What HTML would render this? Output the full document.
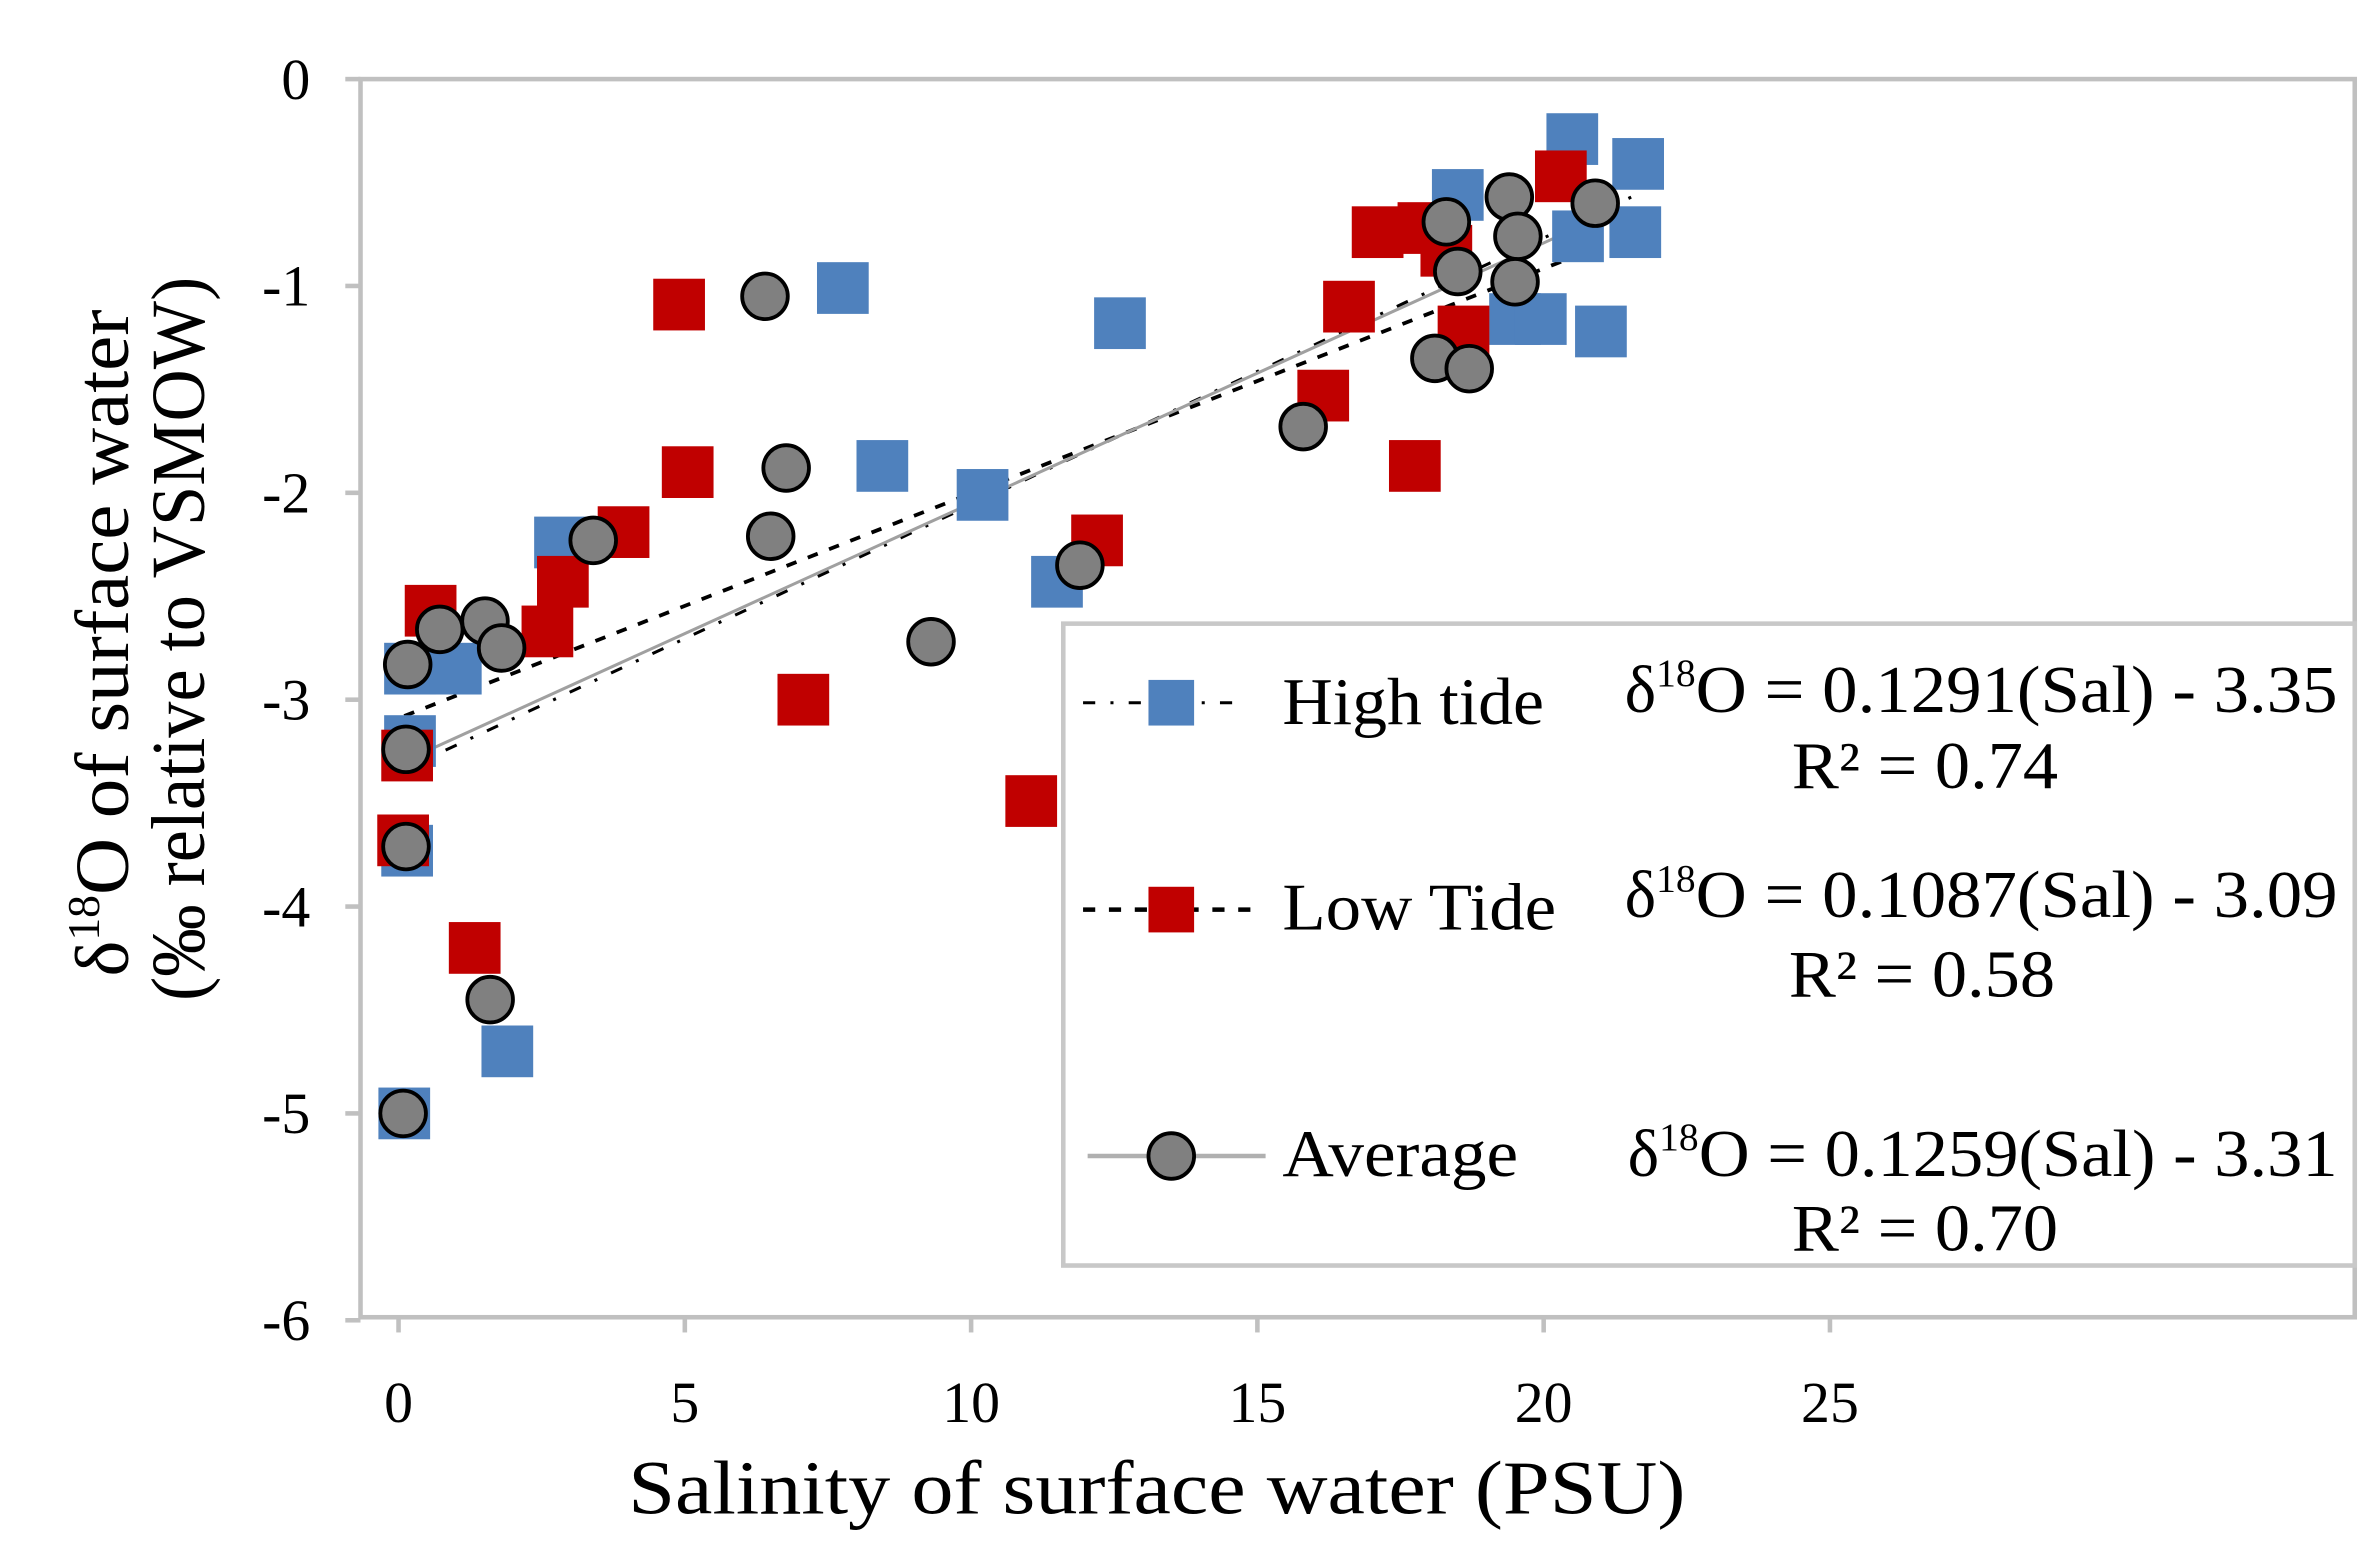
<!DOCTYPE html>
<html><head><meta charset="utf-8"><style>
html,body{margin:0;padding:0;background:#fff;}
svg{display:block;font-family:"Liberation Serif",serif;}
</style></head><body>
<svg id="chart" width="2373" height="1560" viewBox="0 0 1560 1025.6" preserveAspectRatio="none">
<rect x="0" y="0" width="1560" height="1026" fill="#fff"/>
<rect x="237" y="52" width="1311" height="814" fill="none" stroke="#c0c0c0" stroke-width="3"/>
<g id="axes"></g>
<g id="trends"></g>
<g id="marks"></g>
<g>
<rect x="699" y="410" width="849" height="422" fill="#fff" stroke="#c8c8c8" stroke-width="3"/>
<g>
<line x1="712" y1="462" x2="818" y2="462" stroke="#000" stroke-width="2" stroke-dasharray="8,10,2,10"/>
<rect x="755" y="447" width="30" height="30" fill="#4f81bd"/>
<text x="843" y="476" font-size="44" textLength="172" lengthAdjust="spacingAndGlyphs">High tide</text>
<text x="1068" y="468" font-size="44">δ<tspan font-size="26" dy="-17">18</tspan><tspan dy="17" textLength="422" lengthAdjust="spacingAndGlyphs">O = 0.1291(Sal) - 3.35</tspan></text>
<text x="1178" y="518" font-size="44" textLength="175" lengthAdjust="spacingAndGlyphs">R² = 0.74</text>
</g>
<g>
<line x1="712" y1="598" x2="830" y2="598" stroke="#000" stroke-width="3" stroke-dasharray="8,9"/>
<rect x="755" y="583" width="30" height="30" fill="#c00000"/>
<text x="843" y="611" font-size="44" textLength="180" lengthAdjust="spacingAndGlyphs">Low Tide</text>
<text x="1068" y="603" font-size="44">δ<tspan font-size="26" dy="-17">18</tspan><tspan dy="17" textLength="422" lengthAdjust="spacingAndGlyphs">O = 0.1087(Sal) - 3.09</tspan></text>
<text x="1176" y="655" font-size="44" textLength="175" lengthAdjust="spacingAndGlyphs">R² = 0.58</text>
</g>
<g>
<line x1="715" y1="760" x2="832" y2="760" stroke="#b0b0b0" stroke-width="3"/>
<circle cx="770" cy="760" r="15" fill="#808080" stroke="#000" stroke-width="2.5"/>
<text x="843" y="773" font-size="44" textLength="155" lengthAdjust="spacingAndGlyphs">Average</text>
<text x="1070" y="773" font-size="44">δ<tspan font-size="26" dy="-17">18</tspan><tspan dy="17" textLength="420" lengthAdjust="spacingAndGlyphs">O = 0.1259(Sal) - 3.31</tspan></text>
<text x="1178" y="822" font-size="44" textLength="175" lengthAdjust="spacingAndGlyphs">R² = 0.70</text>
</g>
</g>
<text x="413" y="995" font-size="50" textLength="695" lengthAdjust="spacingAndGlyphs">Salinity of surface water (PSU)</text>
<g transform="translate(0,420) rotate(-90)">
<text x="-222" y="84" font-size="50">δ<tspan font-size="30" dy="-19">18</tspan><tspan dy="19" textLength="385" lengthAdjust="spacingAndGlyphs">O of surface water</tspan></text>
<text x="-238" y="134" font-size="50" textLength="476" lengthAdjust="spacingAndGlyphs">(‰ relative to VSMOW)</text>
</g>
</svg>
<script>
const xTicks=[0,5,10,15,20,25];
const yTicks=[0,-1,-2,-3,-4,-5,-6];
const highX=[20.5,21.65,18.5,20.6,21.6,7.76,12.6,19.5,19.95,21.0,8.45,10.2,2.82,11.5,0.2,1.0,0.2,0.15,1.9,0.1];
const highY=[-0.29,-0.41,-0.56,-0.76,-0.74,-1.01,-1.18,-1.16,-1.16,-1.22,-1.87,-2.01,-2.24,-2.43,-2.85,-2.85,-3.2,-3.73,-4.7,-5.0];
const lowX=[20.3,17.1,17.9,18.3,16.6,4.9,18.6,5.05,3.93,12.2,2.87,0.56,16.15,17.75,2.6,7.07,11.05,0.15,0.08,1.33];
const lowY=[-0.47,-0.74,-0.72,-0.83,-1.1,-1.09,-1.22,-1.9,-2.19,-2.23,-2.43,-2.57,-1.53,-1.87,-2.67,-3.0,-3.49,-3.27,-3.68,-4.2];
const avgX=[19.4,20.9,18.3,19.55,18.5,19.5,6.4,18.1,18.7,15.8,6.77,3.4,6.5,11.9,9.3,0.72,1.51,1.8,0.16,0.13,0.13,1.6,0.08];
const avgY=[-0.57,-0.6,-0.69,-0.76,-0.93,-0.98,-1.05,-1.35,-1.4,-1.68,-1.88,-2.23,-2.21,-2.35,-2.72,-2.66,-2.62,-2.75,-2.83,-3.24,-3.71,-4.45,-5.0];
const trendSlope=[0.1291,0.1087,0.1259];
const trendIntercept=[-3.35,-3.09,-3.31];
const trendStart=[0.1,0.1,0.1];
const trendEnd=[21.7,20.5,21.0];

const NS="http://www.w3.org/2000/svg";
const X=v=>262+v*37.64;
const Y=v=>52-v*136;
function mk(tag,attrs,parent){const e=document.createElementNS(NS,tag);for(const k in attrs)e.setAttribute(k,attrs[k]);parent.appendChild(e);return e;}
const axes=document.getElementById('axes');
yTicks.forEach(t=>{
  const l=mk('line',{x1:227,x2:237,y1:Y(t),y2:Y(t),stroke:'#c0c0c0','stroke-width':3},axes);
  
  
  const tx=mk('text',{x:204,y:Y(t)+13,'font-size':38,'text-anchor':'end'},axes);
  tx.textContent=String(t);
  
  
});
xTicks.forEach(t=>{
  const l=mk('line',{x1:X(t),x2:X(t),y1:866,y2:876,stroke:'#c0c0c0','stroke-width':3},axes);
  
  
  const tx=mk('text',{x:X(t),y:935,'font-size':38,'text-anchor':'middle'},axes);
  tx.textContent=String(t);
  
  
});
const trends=document.getElementById('trends');
const tStyles=[{stroke:'#000','stroke-width':2,'stroke-dasharray':'8,10,2,10'},{stroke:'#000','stroke-width':2.5,'stroke-dasharray':'7,8'},{stroke:'#a0a0a0','stroke-width':2}];
const tNames=['trendline-high-tide','trendline-low-tide','trendline-average'];
for(let i=0;i<3;i++){
  const a=trendStart[i],b=trendEnd[i];
  const l=mk('line',Object.assign({x1:X(a),y1:Y(trendSlope[i]*a+trendIntercept[i]),x2:X(b),y2:Y(trendSlope[i]*b+trendIntercept[i])},tStyles[i]),trends);
  
  
}
const marks=document.getElementById('marks');
const sq=17;
highX.forEach((v,i)=>{
  const r=mk('rect',{x:X(v)-sq,y:Y(highY[i])-sq,width:sq*2,height:sq*2,fill:'#4f81bd'},marks);
  
  
});
lowX.forEach((v,i)=>{
  const r=mk('rect',{x:X(v)-sq,y:Y(lowY[i])-sq,width:sq*2,height:sq*2,fill:'#c00000'},marks);
  
  
});
avgX.forEach((v,i)=>{
  const c=mk('circle',{cx:X(v),cy:Y(avgY[i]),r:15,fill:'#808080',stroke:'#000','stroke-width':2.5},marks);
  
  
});
</script>
</body></html>
